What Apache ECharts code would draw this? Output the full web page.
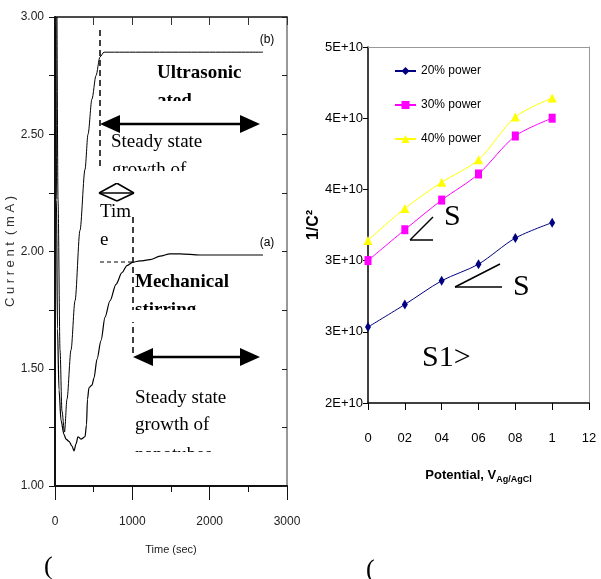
<!DOCTYPE html>
<html>
<head>
<meta charset="utf-8">
<script src="https://cdn.jsdelivr.net/npm/echarts@6/dist/echarts.min.js"></script>
<style>
  html, body { margin: 0; padding: 0; background: #fff; }
  #chart { width: 601px; height: 579px; }
</style>
</head>
<body>
<div id="chart"></div>
<script>
(function(){
  // (a) mechanical stirring / (b) ultrasonicated : current vs time
  const timeA = [13, 19, 32, 52, 78, 116, 142, 181, 220, 246, 272, 297, 336, 388, 407, 420, 440, 478, 504, 543, 595, 647, 711, 789, 866, 931, 1009, 1099, 1228, 1358, 1487, 1616, 1875, 2690];
  const currentA = [3.00, 2.22, 1.67, 1.41, 1.28, 1.22, 1.20, 1.19, 1.17, 1.15, 1.18, 1.21, 1.20, 1.21, 1.26, 1.37, 1.42, 1.43, 1.46, 1.54, 1.62, 1.72, 1.79, 1.86, 1.91, 1.94, 1.955, 1.96, 1.965, 1.98, 1.99, 1.99, 1.985, 1.985];
  const timeB = [26, 39, 65, 90, 123, 155, 207, 259, 323, 388, 427, 478, 530, 582, 634, 711, 2690];
  const currentB = [3.00, 2.22, 1.58, 1.32, 1.23, 1.37, 1.58, 1.79, 2.09, 2.35, 2.50, 2.65, 2.75, 2.83, 2.85, 2.85, 2.85];

  // Mott-Schottky : 1/C^2 vs potential
  const potential = [0, 0.2, 0.4, 0.6, 0.8, 1.0];
  const power20 = [2.64e10, 2.83e10, 3.03e10, 3.17e10, 3.39e10, 3.52e10];
  const power30 = [3.20e10, 3.46e10, 3.71e10, 3.93e10, 4.25e10, 4.40e10];
  const power40 = [3.37e10, 3.64e10, 3.86e10, 4.05e10, 4.41e10, 4.57e10];
  const seriesNames = ["20% power", "30% power", "40% power"];

  const sans = "'Liberation Sans', Arial, sans-serif";
  const serif = "'Liberation Serif', 'DejaVu Serif', serif";
  const pair = (xs, ys) => xs.map((x, i) => [x, ys[i]]);

  // annotation helpers (pixels)
  function seg(x1, y1, x2, y2, w, dash) {
    return { type: "line", z: 10, shape: { x1, y1, x2, y2 },
      style: { stroke: "#000", lineWidth: w || 1, lineDash: dash || null } };
  }
  function txt(x, y, text, font, align) {
    return { type: "text", z: 10, x, y,
      style: { text, font, fill: "#000", textAlign: align || "left", textVerticalAlign: "middle" } };
  }
  function tri(points) {
    return { type: "polygon", z: 10, shape: { points }, style: { fill: "#000" } };
  }
  function cover(x, y, w, h) {
    return { type: "rect", z: 11, shape: { x, y, width: w, height: h }, style: { fill: "#fff" } };
  }
  function dblArrow(x1, x2, y) {
    return [
      seg(x1 + 15, y, x2 - 15, y, 2.5),
      tri([[x1, y], [x1 + 20, y - 9], [x1 + 20, y + 9]]),
      tri([[x2, y], [x2 - 20, y - 9], [x2 - 20, y + 9]])
    ];
  }

  const bigSerif = "19px " + serif;
  const boldSerif = "bold 19px " + serif;

  const graphics = [].concat(
    // left panel annotations
    [seg(100, 30, 100, 170, 1.5, [6, 4])],
    [txt(267, 40, "(b)", "12px " + sans, "center")],
    [txt(157, 73, "Ultrasonic", boldSerif), txt(157, 101, "ated", boldSerif), cover(150, 101, 100, 12)],
    dblArrow(100, 260, 124),
    [txt(111, 142, "Steady state", bigSerif), txt(112, 170, "growth of", bigSerif), cover(105, 171, 120, 12)],
    [seg(99, 193, 134, 193, 1.5), seg(99, 193, 121, 181, 1.5), seg(134, 193, 113, 181, 1.5),
     seg(99, 193, 117, 201, 1.5), seg(134, 193, 117, 201, 1.5)],
    [txt(100, 212, "Tim", bigSerif), txt(100, 240, "e", bigSerif)],
    [seg(133, 217, 133, 357, 1.5, [6, 4]), seg(100, 262, 133, 262, 1, [4, 3])],
    [txt(267, 243, "(a)", "12px " + sans, "center")],
    [txt(135, 282, "Mechanical", boldSerif), txt(135, 310, "stirring", boldSerif), cover(130, 310, 120, 12)],
    dblArrow(133, 260, 357),
    [txt(135, 398, "Steady state", bigSerif), txt(135, 425, "growth of", bigSerif), txt(135, 455, "nanotubes", bigSerif), cover(130, 452, 120, 14)],
    [txt(44, 567, "(", "26px " + serif)],
    // right panel annotations
    [seg(410, 240, 433, 240, 1.5), seg(410, 240, 433, 217, 1.5), txt(444, 217, "S", "30px " + serif)],
    [seg(455, 287, 502, 287, 1.5), seg(455, 287, 500, 264, 1.5), txt(513, 287, "S", "30px " + serif)],
    [txt(422, 358, "S1>", "30px " + serif)],
    [txt(366, 570, "(", "26px " + serif)]
  );

  const chart = echarts.init(document.getElementById("chart"));

  const option = {
    backgroundColor: "#fff",
    animation: false,
    grid: [
      { left: 55, top: 17, width: 232, height: 469 },
      { left: 368, top: 47, width: 221, height: 356 }
    ],
    legend: {
      orient: "vertical", left: 394, top: 65, itemGap: 22, itemWidth: 21, itemHeight: 10, padding: 0,
      data: seriesNames,
      textStyle: { fontFamily: sans, fontSize: 12, color: "#000" }
    },
    xAxis: [
      {
        gridIndex: 0, type: "value", min: 0, max: 3000, interval: 1000, position: "bottom",
        name: "Time (sec)", nameLocation: "middle", nameGap: 58,
        nameTextStyle: { fontFamily: sans, fontSize: 11, color: "#222" },
        axisLine: { show: true, onZero: false, lineStyle: { color: "#111", width: 2 } },
        axisTick: { show: true, length: 14, lineStyle: { color: "#111" } },
        minorTick: { show: true, splitNumber: 2, length: 6, lineStyle: { color: "#111" } },
        axisLabel: { margin: 30, fontFamily: sans, fontSize: 12, color: "#222", formatter: v => String(v) },
        splitLine: { show: false }
      },
      {
        gridIndex: 0, type: "value", min: 0, max: 3000, interval: 500, position: "top",
        axisLine: { show: true, onZero: false, lineStyle: { color: "#111", width: 1.5 } },
        axisTick: { show: true, inside: true, length: 8, lineStyle: { color: "#333" } },
        axisLabel: { show: false }, splitLine: { show: false }
      },
      {
        gridIndex: 1, type: "value", min: 0, max: 1.2, interval: 0.2, position: "bottom",
        name: "{a|Potential, V}{b|Ag/AgCl}", nameLocation: "middle", nameGap: 64,
        nameTextStyle: {
          rich: {
            a: { fontFamily: sans, fontSize: 13, fontWeight: "bold", color: "#000" },
            b: { fontFamily: sans, fontSize: 9, fontWeight: "bold", color: "#000", padding: [8, 0, 0, 0] }
          }
        },
        axisLine: { show: true, onZero: false, lineStyle: { color: "#000", width: 1.5 } },
        axisTick: { show: true, length: 7, lineStyle: { color: "#000" } },
        axisLabel: {
          margin: 29, fontFamily: sans, fontSize: 13, color: "#000",
          formatter: v => String(+v.toFixed(1)).replace(".", "")
        },
        splitLine: { show: false }
      },
      {
        gridIndex: 1, type: "value", min: 0, max: 1.2, position: "top",
        axisLine: { show: true, onZero: false, lineStyle: { color: "#999", width: 1 } },
        axisTick: { show: false }, axisLabel: { show: false }, splitLine: { show: false }
      }
    ],
    yAxis: [
      {
        gridIndex: 0, type: "value", min: 1, max: 3, interval: 0.5, position: "left",
        name: "C u r r e n t  ( m A )", nameLocation: "middle", nameRotate: 90, nameGap: 33,
        nameTextStyle: { fontFamily: sans, fontSize: 13, color: "#333" },
        axisLine: { show: true, onZero: false, lineStyle: { color: "#111", width: 2 } },
        axisTick: { show: true, length: 6, lineStyle: { color: "#111" } },
        minorTick: { show: true, splitNumber: 2, length: 6, lineStyle: { color: "#111" } },
        axisLabel: { margin: 11, fontFamily: sans, fontSize: 12, color: "#222", formatter: v => v.toFixed(2) },
        splitLine: { show: false }
      },
      {
        gridIndex: 0, type: "value", min: 1, max: 3, interval: 0.25, position: "right",
        axisLine: { show: true, onZero: false, lineStyle: { color: "#777", width: 1.5 } },
        axisTick: { show: true, inside: true, length: 5, lineStyle: { color: "#222" } },
        axisLabel: { show: false }, splitLine: { show: false }
      },
      {
        gridIndex: 1, type: "value", min: 2e10, max: 5e10, interval: 0.6e10, position: "left",
        name: "1/C²", nameLocation: "middle", nameRotate: 90, nameGap: 44,
        nameTextStyle: { fontFamily: sans, fontSize: 16, fontWeight: "bold", color: "#000" },
        axisLine: { show: true, onZero: false, lineStyle: { color: "#000", width: 1.5 } },
        axisTick: { show: true, length: 5, lineStyle: { color: "#000" } },
        axisLabel: { margin: 5, fontFamily: sans, fontSize: 13, color: "#000", formatter: v => Math.round(v / 1e10) + "E+10" },
        splitLine: { show: false }
      },
      {
        gridIndex: 1, type: "value", min: 2e10, max: 5e10, position: "right",
        axisLine: { show: true, onZero: false, lineStyle: { color: "#999", width: 1 } },
        axisTick: { show: false }, axisLabel: { show: false }, splitLine: { show: false }
      }
    ],
    series: [
      {
        name: "b", type: "line", xAxisIndex: 0, yAxisIndex: 0, data: pair(timeB, currentB),
        showSymbol: false, smooth: 0.3, smoothMonotone: "x",
        lineStyle: { color: "#000", width: 1 }
      },
      {
        name: "a", type: "line", xAxisIndex: 0, yAxisIndex: 0, data: pair(timeA, currentA),
        showSymbol: false, smooth: 0.3, smoothMonotone: "x",
        lineStyle: { color: "#000", width: 1.2 }
      },
      {
        name: seriesNames[0], type: "line", xAxisIndex: 2, yAxisIndex: 2, data: pair(potential, power20),
        smooth: 0.3, symbol: "diamond", symbolSize: [6, 10],
        itemStyle: { color: "#000080" }, lineStyle: { color: "#000080", width: 1 }
      },
      {
        name: seriesNames[1], type: "line", xAxisIndex: 2, yAxisIndex: 2, data: pair(potential, power30),
        smooth: 0.3, symbol: "rect", symbolSize: [7, 9],
        itemStyle: { color: "#ff00ff" }, lineStyle: { color: "#ff00ff", width: 1 }
      },
      {
        name: seriesNames[2], type: "line", xAxisIndex: 2, yAxisIndex: 2, data: pair(potential, power40),
        smooth: 0.3, symbol: "triangle", symbolSize: 9,
        itemStyle: { color: "#ffff00" }, lineStyle: { color: "#ffff00", width: 1 }
      }
    ],
    graphic: graphics
  };

  chart.setOption(option);
  window.addEventListener("resize", () => chart.resize());
})();
</script>
</body>
</html>
